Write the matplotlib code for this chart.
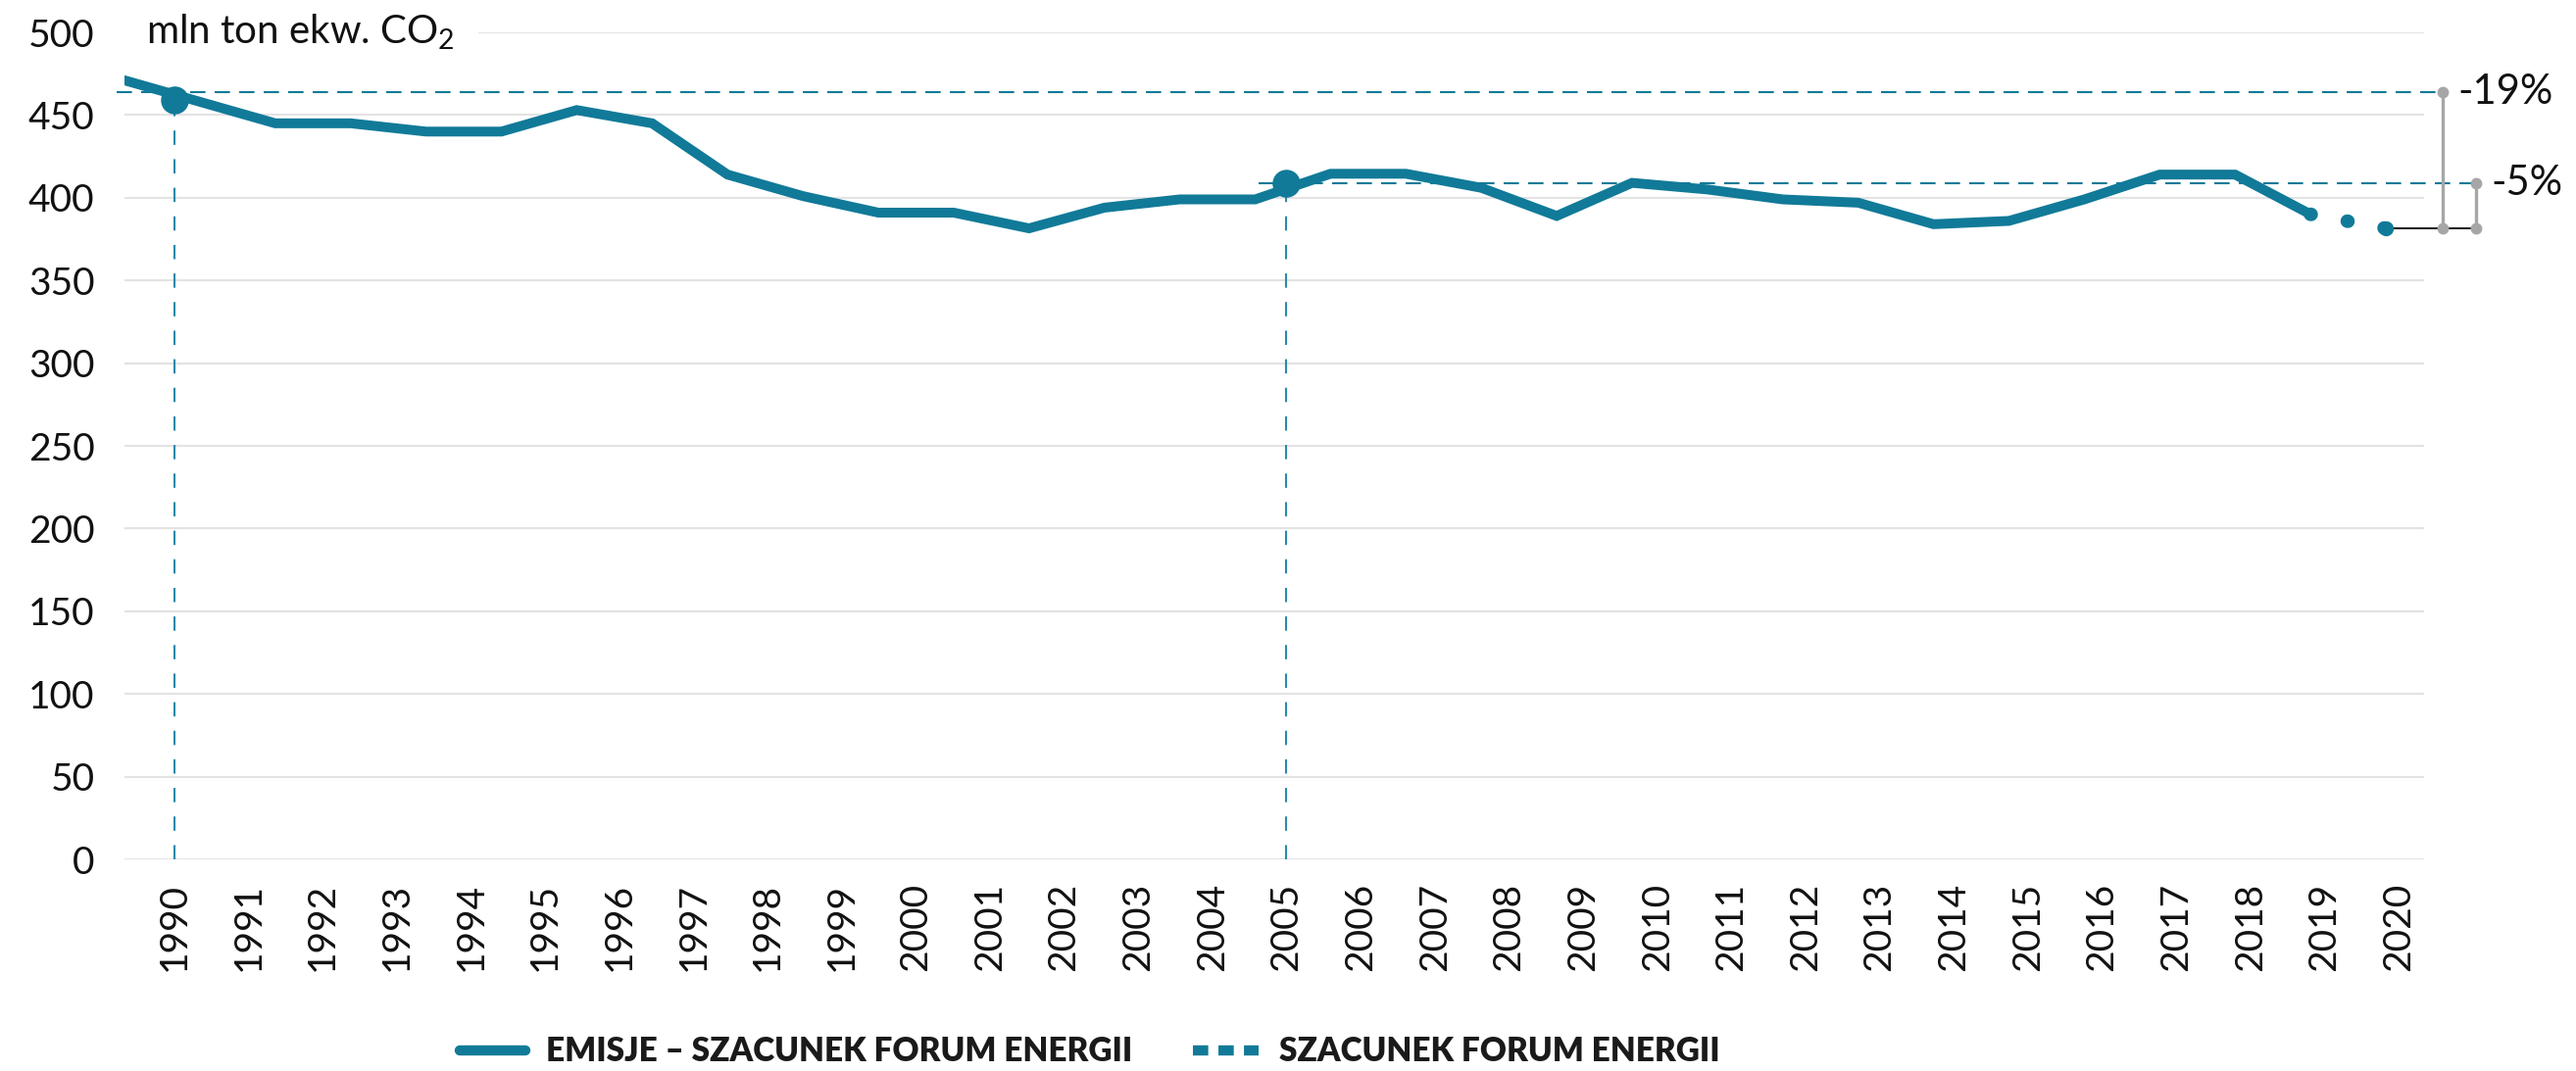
import numpy as np
import matplotlib.pyplot as plt
from matplotlib.lines import Line2D

plt.rcParams['font.family'] = ['Lato', 'DejaVu Sans']
plt.rcParams['mathtext.fontset'] = 'custom'
plt.rcParams['mathtext.rm'] = 'Lato'

#%% data
years = list(range(1990, 2020))
emisje = [471, 458, 445, 445, 440, 440, 453, 445, 414, 401,
          391, 391, 381.5, 394, 399, 399, 414.5, 414.5, 406, 389,
          409, 405, 399, 397, 384, 386, 399, 414, 414, 390]
szac_years = [2019, 2020]
szacunek = [390, 381.5]

tick_years = list(range(1990, 2021))
ref_years = [1990, 2005]
ref_marker = [459, 409]
ref_level = [464, 409]
pct_labels = ['-19%', '-5%']

teal = '#117a98'
teal_light = '#2b89a8'
grey = '#a6a6a6'

#%% figure
fig = plt.figure(figsize=(26.28, 10.93), dpi=100)
ax = fig.add_axes([127/2628, 1 - 877/1093, 2346/2628, 844/1093])

ax.set_xlim(1989.326, 2020.344)
ax.set_ylim(0, 500)
ax.set_xticks(tick_years)
ax.set_xticklabels([str(y) for y in tick_years], rotation=90)
ax.set_yticks(range(0, 501, 50))
ax.tick_params(axis='x', length=0, pad=17, labelsize=28, labelcolor='#111111')
ax.tick_params(axis='y', length=0, pad=22, labelsize=28, labelcolor='#111111')
ax.grid(axis='y', color='#e3e3e3', lw=1.5)
ax.set_axisbelow(True)
for s in ax.spines.values():
    s.set_visible(False)

# unit label sitting on the 500 gridline (white box hides the gridline)
ax.annotate('mln ton ekw. CO$_\\mathregular{2}$', xy=(0, 500),
            xycoords=('axes fraction', 'data'), xytext=(16, 0),
            textcoords='offset points', fontsize=29, ha='left', va='center',
            color='#111111',
            bbox=dict(boxstyle='square,pad=0.6', fc='white', ec='none'))

# reference markers and dashed guides
for yr, mv, lv in zip(ref_years, ref_marker, ref_level):
    ax.plot([yr, yr], [0, mv], color=teal_light, lw=1.5, dashes=(7, 7))
    ax.plot(yr, mv, 'o', ms=19.5, color=teal, zorder=4)

# series axis (its own year scale, as in the original)
ax2 = ax.twiny()
ax2.set_xlim(1990, 2020.507)
ax2.set_ylim(0, 500)
ax2.axis('off')

ax2.plot([1989.9, 2020.75], [ref_level[0]] * 2, color=teal, lw=1.5,
         dashes=(7.5, 4.5), clip_on=False)
ax2.plot([2005.05, 2021.2], [ref_level[1]] * 2, color=teal, lw=1.5,
         dashes=(7.5, 4.5), clip_on=False)

ax2.plot(years, emisje, color=teal, lw=7.2, solid_capstyle='round',
         solid_joinstyle='miter', zorder=5)
ax2.plot(szac_years, szacunek, color=teal, lw=10, dashes=(0.05, 2.7),
         dash_capstyle='round', marker='o', ms=10, markevery=[1],
         zorder=5, clip_on=False)

# brackets on the right
bx = [2020.754, 2021.197]
ax2.plot([2020, bx[1]], [szacunek[-1]] * 2, color='#222222', lw=1.5,
         clip_on=False, zorder=3)
for x, lv, lab in zip(bx, ref_level, pct_labels):
    ax2.plot([x, x], [szacunek[-1], lv], color=grey, lw=2.4, marker='o',
             ms=7.5, clip_on=False, zorder=4)
    ax2.text(x + 0.2, lv, lab, fontsize=30, ha='left', va='center',
             color='#111111', clip_on=False)

# legend
h1 = Line2D([], [], color=teal, lw=7.5, solid_capstyle='round')
h2 = Line2D([], [], color=teal, lw=7.5, dashes=(1.5, 1.0))
leg = fig.legend([h1, h2], ['EMISJE \u2013 SZACUNEK FORUM ENERGII', 'SZACUNEK FORUM ENERGII'],
                 loc='center', bbox_to_anchor=(0.423, 0.018), ncol=2, frameon=False,
                 handlelength=2.0, handletextpad=0.63, columnspacing=1.86,
                 prop={'family': 'Lato', 'weight': 'heavy', 'size': 24})
for t in leg.get_texts():
    t.set_color('#1a1a1a')

fig.savefig('out.png', dpi=100)
